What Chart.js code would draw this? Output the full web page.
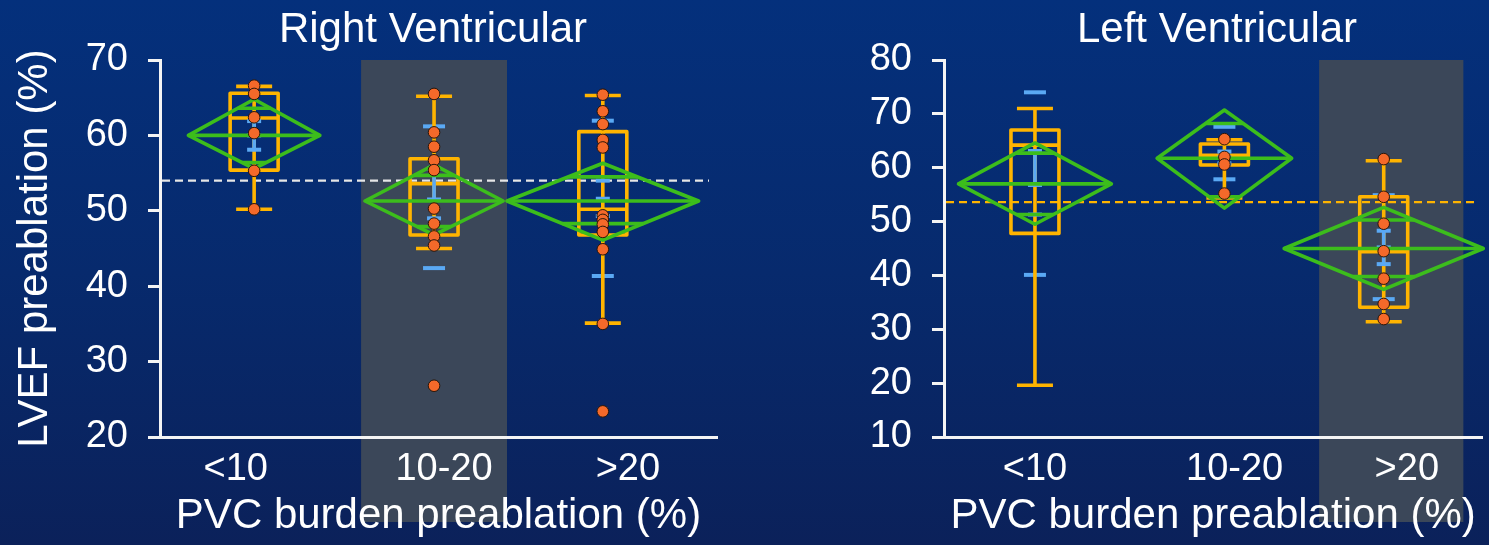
<!DOCTYPE html>
<html>
<head>
<meta charset="utf-8">
<script src="https://cdn.jsdelivr.net/npm/chart.js@4.4.0/dist/chart.umd.min.js"></script>
<style>
  html, body { margin:0; padding:0; width:1489px; height:545px; overflow:hidden;
    background: linear-gradient(180deg, #04307c 0%, #072a6d 50%, #0b215a 100%); }
  .wrap { position:absolute; top:0; height:545px; }
  #w1 { left:0; width:745px; }
  #w2 { left:745px; width:744px; }
  canvas { display:block; }
</style>
</head>
<body>
<div id="w1" class="wrap"><canvas id="c1" width="745" height="545"></canvas></div>
<div id="w2" class="wrap"><canvas id="c2" width="744" height="545"></canvas></div>
<script>
// ---------------- DATA ----------------
const categories = ['<10', '10-20', '>20'];
const rvTitle = 'Right Ventricular';
const lvTitle = 'Left Ventricular';
const yAxisTitle = 'LVEF preablation (%)';
const xAxisTitle = 'PVC burden preablation (%)';
const rvYTicks = [20, 30, 40, 50, 60, 70];
const lvYTicks = [10, 20, 30, 40, 50, 60, 70, 80];

// Right Ventricular panel
const rvPoints0 = [66.6, 65.5, 62.4, 60.3, 55.3, 50.2];
const rvPoints1 = [65.5, 60.4, 58.5, 56.7, 55.4, 50.3, 48.3, 46.6, 45.4, 26.8];
const rvPoints2 = [65.4, 63.2, 61.5, 59.4, 58.4, 49.4, 48.8, 48.2, 47.2, 44.9, 35.0, 23.4];
const rvWhiskerLow  = [50.2, 45.0, 35.1];
const rvQ1          = [55.4, 46.8, 46.8];
const rvMedian      = [62.3, 53.6, 50.2];
const rvQ3          = [65.6, 56.9, 60.5];
const rvWhiskerHigh = [66.5, 65.2, 65.3];
const rvMean        = [60.0, 51.3, 51.3];
const rvCiLow       = [55.6, 46.8, 46.1];
const rvCiHigh      = [64.8, 56.1, 56.3];
const rvOverlapLow  = [56.4, 47.9, 48.3];
const rvOverlapHigh = [63.6, 54.7, 54.5];
const rvSdLow       = [null, 42.4, 41.35];
const rvSdHigh      = [null, 61.2, 61.95];
const rvErrLow      = [58.1, 49.0, 49.3];
const rvErrHigh     = [61.9, 55.6, 54.0];
const rvErrMean     = [60.0, 51.5, 51.6];
const rvErrStem     = [[58.1, 61.9], [51.5, 55.6], null];
const rvGrandMean   = 54.0;

// Left Ventricular panel
const lvPoints0 = [];
const lvPoints1 = [65.3, 62.0, 60.6, 55.2];
const lvPoints2 = [61.6, 54.6, 49.6, 44.5, 39.4, 34.7, 31.9];
const lvWhiskerLow  = [19.6, 54.4, 31.4];
const lvQ1          = [47.8, 60.5, 34.1];
const lvMedian      = [64.2, 62.3, 44.4];
const lvQ3          = [67.0, 64.4, 54.6];
const lvWhiskerHigh = [71.0, 65.2, 61.3];
const lvMean        = [57.0, 61.75, 45.0];
const lvCiLow       = [49.5, 52.5, 37.4];
const lvCiHigh      = [64.6, 70.7, 52.65];
const lvOverlapLow  = [51.3, 54.6, 39.8];
const lvOverlapHigh = [62.7, 68.2, 50.3];
const lvSdLow       = [40.1, 57.85, 35.6];
const lvSdHigh      = [74.0, 67.6, 54.9];
const lvErrLow      = [51.3, 60.8, 42.1];
const lvErrHigh     = [63.1, 63.0, 48.3];
const lvErrMean     = [56.8, 61.9, 45.2];
const lvErrStem     = [[56.8, 63.1], null, [42.1, 48.3]];
const lvGrandMean   = 53.6;

// ---------------- LAYOUT / STYLE ----------------
const FONT = "'Liberation Sans', Arial, sans-serif";
const WHITE = '#ffffff';
const ORANGE = '#ffb400';
const GREEN = '#3cbd1c';
const BLUE = '#5aa9f4';
const GRAY = '#3b4759';
const PT_FILL = '#f4692a';
const PT_BORDER = '#2a1608';
const TICK_SIZE = 38;
const AXIS_TITLE_SIZE = 42;
const PANEL_TITLE_SIZE = 42;

const rvLayout = {
  centers: [1.69, 4.92, 7.95], diamondHalf: [1.18, 1.24, 1.72],
  shade: [3.61, 6.23], labelPos: [1.36, 5.1, 8.4],
  yWidth: 160, padRight: 28, titleX: 433, grandColor: '#e6e6e6', yTitle: true
};
const lvLayout = {
  centers: [1.69, 5.21, 8.17], diamondHalf: [1.42, 1.25, 1.85],
  shade: [6.97, 9.65], labelPos: [1.69, 5.4, 8.6],
  yWidth: 199, padRight: 0, titleX: 1217 - 745, grandColor: ORANGE, yTitle: false
};

const rvPanel = {
  title: rvTitle, yTicks: rvYTicks, points: [rvPoints0, rvPoints1, rvPoints2],
  wl: rvWhiskerLow, q1: rvQ1, med: rvMedian, q3: rvQ3, wh: rvWhiskerHigh,
  mean: rvMean, ciL: rvCiLow, ciH: rvCiHigh, ovL: rvOverlapLow, ovH: rvOverlapHigh,
  sdL: rvSdLow, sdH: rvSdHigh, eL: rvErrLow, eH: rvErrHigh, eM: rvErrMean, stem: rvErrStem,
  grand: rvGrandMean
};
const lvPanel = {
  title: lvTitle, yTicks: lvYTicks, points: [lvPoints0, lvPoints1, lvPoints2],
  wl: lvWhiskerLow, q1: lvQ1, med: lvMedian, q3: lvQ3, wh: lvWhiskerHigh,
  mean: lvMean, ciL: lvCiLow, ciH: lvCiHigh, ovL: lvOverlapLow, ovH: lvOverlapHigh,
  sdL: lvSdLow, sdH: lvSdHigh, eL: lvErrLow, eH: lvErrHigh, eM: lvErrMean, stem: lvErrStem,
  grand: lvGrandMean
};

function hline(ctx, x0, x1, y) { ctx.beginPath(); ctx.moveTo(x0, y); ctx.lineTo(x1, y); ctx.stroke(); }
function vline(ctx, x, y0, y1) { ctx.beginPath(); ctx.moveTo(x, y0); ctx.lineTo(x, y1); ctx.stroke(); }

function makePlugin(panel, layout) {
  return {
    id: 'groupMarks',
    beforeDraw(chart) {
      const { ctx, chartArea } = chart; const xs = chart.scales.x;
      const x0 = xs.getPixelForValue(layout.shade[0]);
      const x1 = xs.getPixelForValue(layout.shade[1]);
      ctx.save(); ctx.fillStyle = GRAY;
      ctx.fillRect(x0, chartArea.top, x1 - x0, 522 - chartArea.top);
      ctx.restore();
    },
    beforeDatasetsDraw(chart) {
      const { ctx, chartArea } = chart; const xs = chart.scales.x; const ys = chart.scales.y;
      const Y = v => ys.getPixelForValue(v);
      ctx.save();
      ctx.lineCap = 'butt'; ctx.lineJoin = 'round';
      // grand mean dashed line
      ctx.strokeStyle = layout.grandColor; ctx.lineWidth = 2.2; ctx.setLineDash([8, 5]);
      hline(ctx, chartArea.left + 2, chartArea.right - 8, Y(panel.grand));
      ctx.setLineDash([]);
      for (let i = 0; i < 3; i++) {
        const cx = xs.getPixelForValue(layout.centers[i]);
        // std dev lines
        ctx.strokeStyle = BLUE; ctx.lineWidth = 4;
        if (panel.sdL[i] != null) hline(ctx, cx - 11, cx + 11, Y(panel.sdL[i]));
        if (panel.sdH[i] != null) hline(ctx, cx - 11, cx + 11, Y(panel.sdH[i]));
        // box plot
        ctx.strokeStyle = ORANGE; ctx.lineWidth = 3.6;
        vline(ctx, cx, Y(panel.wl[i]), Y(panel.wh[i]));
        hline(ctx, cx - 18, cx + 18, Y(panel.wl[i]));
        hline(ctx, cx - 18, cx + 18, Y(panel.wh[i]));
        ctx.beginPath();
        ctx.rect(cx - 24, Y(panel.q3[i]), 48, Y(panel.q1[i]) - Y(panel.q3[i]));
        ctx.stroke();
        hline(ctx, cx - 24, cx + 24, Y(panel.med[i]));
        // mean error bars
        ctx.strokeStyle = BLUE;
        if (panel.stem[i]) { ctx.lineWidth = 3.6; vline(ctx, cx, Y(panel.stem[i][0]), Y(panel.stem[i][1])); }
        ctx.lineWidth = 4;
        hline(ctx, cx - 7, cx + 7, Y(panel.eL[i]));
        hline(ctx, cx - 7, cx + 7, Y(panel.eH[i]));
        hline(ctx, cx - 7, cx + 7, Y(panel.eM[i]));
        // means diamond
        const dl = xs.getPixelForValue(layout.centers[i] - layout.diamondHalf[i]);
        const dr = xs.getPixelForValue(layout.centers[i] + layout.diamondHalf[i]);
        const hw = (dr - dl) / 2;
        ctx.strokeStyle = GREEN; ctx.lineWidth = 3.6;
        ctx.beginPath();
        ctx.moveTo(dl, Y(panel.mean[i]));
        ctx.lineTo(cx, Y(panel.ciH[i]));
        ctx.lineTo(dr, Y(panel.mean[i]));
        ctx.lineTo(cx, Y(panel.ciL[i]));
        ctx.closePath(); ctx.stroke();
        hline(ctx, dl, dr, Y(panel.mean[i]));
        const fH = 1 - (panel.ovH[i] - panel.mean[i]) / (panel.ciH[i] - panel.mean[i]);
        const fL = 1 - (panel.mean[i] - panel.ovL[i]) / (panel.mean[i] - panel.ciL[i]);
        hline(ctx, cx - hw * fH, cx + hw * fH, Y(panel.ovH[i]));
        hline(ctx, cx - hw * fL, cx + hw * fL, Y(panel.ovL[i]));
      }
      ctx.restore();
    },
    afterDraw(chart) {
      const { ctx } = chart;
      ctx.save();
      ctx.fillStyle = WHITE; ctx.font = PANEL_TITLE_SIZE + 'px ' + FONT;
      ctx.textAlign = 'center'; ctx.textBaseline = 'middle';
      ctx.fillText(panel.title, layout.titleX, 30);
      ctx.restore();
    }
  };
}

function makeChart(canvasId, panel, layout) {
  const datasets = panel.points.map((arr, i) => ({
    data: arr.map(v => ({ x: layout.centers[i], y: v })),
    backgroundColor: PT_FILL, borderColor: PT_BORDER, borderWidth: 1,
    pointRadius: 5.8, pointHoverRadius: 5.8, showLine: false
  }));
  const yTicks = panel.yTicks;
  return new Chart(document.getElementById(canvasId), {
    type: 'scatter',
    data: { datasets },
    options: {
      responsive: false, animation: false, devicePixelRatio: 1,
      layout: { padding: { left: 0, right: layout.padRight, top: 60, bottom: 0 } },
      plugins: { legend: { display: false }, tooltip: { enabled: false }, title: { display: false } },
      scales: {
        x: {
          type: 'linear', min: 0, max: 10,
          afterBuildTicks: s => { s.ticks = layout.labelPos.map(v => ({ value: v })); },
          afterFit: s => { s.height = 108; },
          ticks: { callback: (v, i) => categories[i], color: WHITE, font: { family: FONT, size: TICK_SIZE },
                   padding: 10, autoSkip: false, maxRotation: 0 },
          grid: { display: false, drawOnChartArea: false, drawTicks: false },
          border: { display: true, color: '#f4f4f4', width: 3 },
          title: { display: true, text: xAxisTitle, color: WHITE, font: { family: FONT, size: AXIS_TITLE_SIZE },
                   padding: { top: 0, bottom: 3 } }
        },
        y: {
          type: 'linear', min: yTicks[0], max: yTicks[yTicks.length - 1],
          afterBuildTicks: s => { s.ticks = yTicks.map(v => ({ value: v })); },
          afterFit: s => { s.width = layout.yWidth; },
          ticks: { color: WHITE, font: { family: FONT, size: TICK_SIZE }, padding: 20 },
          grid: { display: true, drawOnChartArea: false, drawTicks: true, tickLength: 12,
                  tickColor: '#f4f4f4', tickWidth: 3, color: '#f4f4f4', lineWidth: 3 },
          border: { display: true, color: '#f4f4f4', width: 3 },
          title: { display: layout.yTitle, text: yAxisTitle, color: WHITE, font: { family: FONT, size: AXIS_TITLE_SIZE },
                   padding: { top: 10, bottom: 0 } }
        }
      }
    },
    plugins: [makePlugin(panel, layout)]
  });
}

makeChart('c1', rvPanel, rvLayout);
makeChart('c2', lvPanel, lvLayout);
</script>
</body>
</html>
